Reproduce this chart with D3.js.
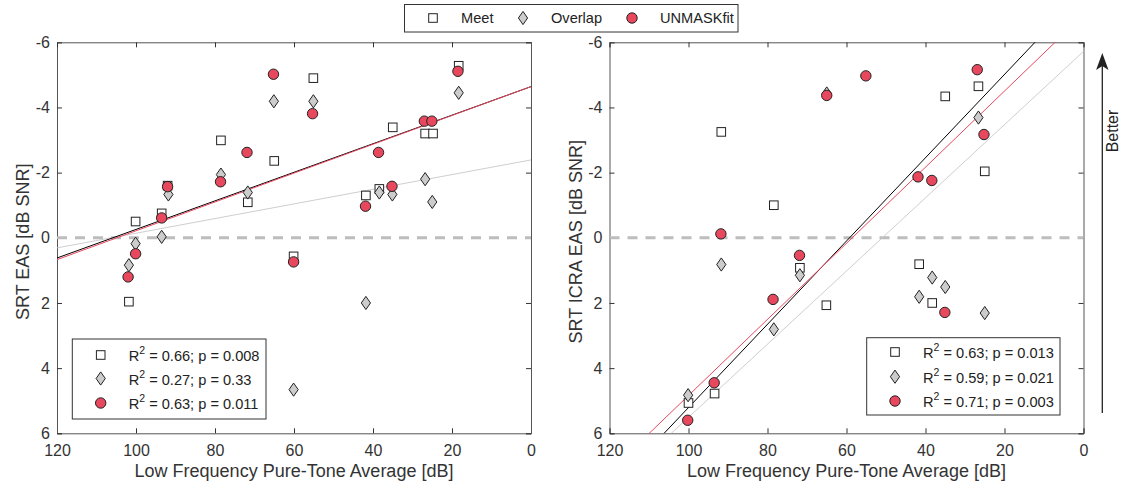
<!DOCTYPE html>
<html>
<head>
<meta charset="utf-8">
<script src="https://cdn.jsdelivr.net/npm/d3@7"></script>
<style>
  body { margin: 0; background: #fff; }
  svg { display: block; font-family: "Liberation Sans", Arial, sans-serif; }
</style>
</head>
<body>
<svg id="chart" width="1122" height="488"></svg>
<script>
// ---------- DATA ----------
const xTicks = [120, 100, 80, 60, 40, 20, 0];
const yTicks = [-6, -4, -2, 0, 2, 4, 6];
const seriesNames = ["Meet", "Overlap", "UNMASKfit"];
const xLabel = "Low Frequency Pure-Tone Average [dB]";
const yLabels = ["SRT EAS [dB SNR]", "SRT ICRA EAS [dB SNR]"];

// Left panel: [PTA dB, SRT dB SNR]
const leftMeet = [[65.0,-2.36],[78.5,-2.99],[71.7,-1.09],[92.0,-1.6],[93.5,-0.75],[100.1,-0.5],[101.8,1.96],[60.1,0.57],[55.1,-4.9],[35.0,-3.39],[26.8,-3.2],[24.8,-3.2],[18.3,-5.28],[41.8,-1.3],[38.4,-1.5]];
const leftOverlap = [[65.1,-4.19],[78.5,-1.94],[91.8,-1.33],[71.7,-1.39],[93.5,-0.03],[100.1,0.18],[101.8,0.84],[60.1,4.66],[41.8,2.0],[55.1,-4.19],[18.3,-4.45],[26.8,-1.8],[25.0,-1.1],[38.4,-1.39],[35.1,-1.33]];
const leftUnmask = [[65.2,-5.02],[71.9,-2.62],[78.6,-1.72],[92.0,-1.57],[93.5,-0.61],[100.1,0.49],[102.0,1.2],[60.1,0.74],[55.3,-3.81],[27.0,-3.58],[25.1,-3.58],[18.5,-5.11],[38.6,-2.62],[41.9,-0.97],[35.2,-1.58]];

// Right panel
const rightMeet = [[91.7,-3.25],[78.4,-1.0],[71.8,0.92],[65.1,2.07],[93.4,4.78],[100.0,5.07],[26.6,-4.65],[35.0,-4.34],[25.0,-2.04],[41.6,0.81],[38.3,2.0]];
const rightOverlap = [[65.0,-4.43],[91.7,0.82],[71.8,1.15],[78.4,2.81],[100.1,4.83],[26.6,-3.69],[38.3,1.22],[35.0,1.51],[41.6,1.81],[25.0,2.31]];
const rightUnmask = [[65.0,-4.37],[91.8,-0.12],[71.9,0.54],[78.6,1.89],[93.5,4.45],[100.2,5.6],[55.1,-4.97],[26.9,-5.16],[25.2,-3.17],[41.9,-1.87],[38.4,-1.76],[35.1,2.29]];

// Fitted lines: SRT = intercept + slope * PTA  (Meet, Overlap, UNMASKfit)
const leftIntercepts = [-4.64, -2.39, -4.64];
const leftSlopes = [0.04383, 0.02250, 0.04425];
const rightIntercepts = [-7.57, -5.72, -6.84];
const rightSlopes = [0.1278, 0.1123, 0.1168];

const leftStats = ["0.66; p = 0.008", "0.27; p = 0.33", "0.63; p = 0.011"];
const rightStats = ["0.63; p = 0.013", "0.59; p = 0.021", "0.71; p = 0.003"];

// ---------- STYLE ----------
const RED = "#e8485e";
const GRAY_FILL = "#cccccc";
const AXIS = "#333333";
const lineColors = ["#000000", "#c8c8c8", RED];
const FONT = 14.6;
const TICKFONT = 16;
const LABELFONT = 18;

const svg = d3.select("#chart");
const yTop = 42.3, yBot = 433.3;

function marker(g, type, cx, cy) {
  if (type === 0) {
    g.append("rect").attr("x", cx - 4.3).attr("y", cy - 4.3).attr("width", 8.6).attr("height", 8.6)
      .attr("fill", "#fff").attr("stroke", "#222").attr("stroke-width", 1);
  } else if (type === 1) {
    const w = 4.6, h = 6.6;
    g.append("path").attr("d", `M${cx},${cy - h}L${cx + w},${cy}L${cx},${cy + h}L${cx - w},${cy}Z`)
      .attr("fill", GRAY_FILL).attr("stroke", "#222").attr("stroke-width", 1);
  } else {
    g.append("circle").attr("cx", cx).attr("cy", cy).attr("r", 5.2)
      .attr("fill", RED).attr("stroke", "#222").attr("stroke-width", 1);
  }
}

function panel(idx, x0, x1, series, intercepts, slopes, stats, legendBox, legendX, legendRows, yLabel, yLabelX) {
  const x = d3.scaleLinear().domain([120, 0]).range([x0, x1]);
  const y = d3.scaleLinear().domain([-6, 6]).range([yTop, yBot]);
  const g = svg.append("g");

  const clipId = "clip" + idx;
  svg.append("clipPath").attr("id", clipId).append("rect")
    .attr("x", x0).attr("y", yTop).attr("width", x1 - x0).attr("height", yBot - yTop);

  // axes (inward ticks, box)
  const axB = d3.axisBottom(x).tickValues(xTicks).tickSize(-5).tickPadding(11).tickFormat(d => String(d));
  const axL = d3.axisLeft(y).tickValues(yTicks).tickSize(-5).tickPadding(7).tickFormat(d => String(d));
  const axT = d3.axisTop(x).tickValues(xTicks).tickSize(-5).tickFormat("");
  const axR = d3.axisRight(y).tickValues(yTicks).tickSize(-5).tickFormat("");
  const style = sel => {
    sel.selectAll("path, line").attr("stroke", AXIS).attr("stroke-width", 1);
    sel.selectAll("text").attr("fill", "#333").attr("font-size", TICKFONT).attr("font-family", "Liberation Sans, Arial, sans-serif");
  };
  g.append("g").attr("transform", `translate(0,${yBot})`).call(axB).call(style);
  g.append("g").attr("transform", `translate(${x0},0)`).call(axL).call(style);
  g.append("g").attr("transform", `translate(0,${yTop})`).call(axT).call(style);
  g.append("g").attr("transform", `translate(${x1},0)`).call(axR).call(style);
  g.selectAll(".domain").attr("stroke", "#555");

  // zero line
  g.append("line").attr("x1", x0).attr("x2", x1).attr("y1", y(0)).attr("y2", y(0))
    .attr("stroke", "#bdbdbd").attr("stroke-width", 3).attr("stroke-dasharray", "10,8");

  // fitted lines: gray first, then black, then red
  const lineG = g.append("g").attr("clip-path", `url(#${clipId})`);
  [1, 0, 2].forEach(k => {
    lineG.append("line")
      .attr("x1", x(130)).attr("y1", y(intercepts[k] + slopes[k] * 130))
      .attr("x2", x(-10)).attr("y2", y(intercepts[k] + slopes[k] * -10))
      .attr("stroke", lineColors[k]).attr("stroke-width", k === 1 ? 0.9 : 1);
  });

  // markers
  const mg = g.append("g");
  series.forEach((pts, k) => pts.forEach(p => marker(mg, k, x(p[0]), y(p[1]))));

  // inner legend
  g.append("rect").attr("x", legendBox[0]).attr("y", legendBox[1]).attr("width", legendBox[2]).attr("height", legendBox[3])
    .attr("fill", "#fff").attr("stroke", "#333").attr("stroke-width", 1);
  stats.forEach((s, k) => {
    const ry = legendRows[k];
    marker(g, k, legendX, ry);
    const t = g.append("text").attr("x", legendX + 28).attr("y", ry + 6)
      .attr("font-size", FONT).attr("fill", "#222");
    t.append("tspan").text("R");
    t.append("tspan").attr("dy", -7).attr("font-size", 10.5).text("2");
    t.append("tspan").attr("dy", 7).text(" = " + s);
  });

  // labels
  g.append("text").attr("x", (x0 + x1) / 2).attr("y", 477).attr("text-anchor", "middle")
    .attr("font-size", LABELFONT).attr("fill", "#333").text(xLabel);
  g.append("text").attr("transform", `translate(${yLabelX},${(yTop + yBot) / 2 + 4}) rotate(-90)`)
    .attr("text-anchor", "middle").attr("font-size", LABELFONT).attr("fill", "#333").text(yLabel);
}

panel(0, 57, 531, [leftMeet, leftOverlap, leftUnmask], leftIntercepts, leftSlopes, leftStats,
  [72.3, 339, 193.7, 80], 100.7, [355, 378.5, 403], yLabels[0], 28.5);
panel(1, 609.5, 1083.5, [rightMeet, rightOverlap, rightUnmask], rightIntercepts, rightSlopes, rightStats,
  [866.7, 337.7, 193.3, 77.3], 895, [352, 376.7, 401], yLabels[1], 582);

// top legend
const lg = svg.append("g");
lg.append("rect").attr("x", 404.5).attr("y", 4.5).attr("width", 333.5).attr("height", 27.5)
  .attr("fill", "#fff").attr("stroke", "#333").attr("stroke-width", 1);
const legX = [433, 523, 632];
seriesNames.forEach((n, k) => {
  marker(lg, k, legX[k], 18);
  lg.append("text").attr("x", legX[k] + 28).attr("y", 23).attr("font-size", FONT).attr("fill", "#222").text(n);
});

// "Better" arrow
svg.append("line").attr("x1", 1102.3).attr("x2", 1102.3).attr("y1", 413).attr("y2", 62)
  .attr("stroke", "#222").attr("stroke-width", 1.3);
svg.append("path").attr("d", "M1102.3,53 L1108.5,70 L1102.3,66 L1096.1,70 Z").attr("fill", "#222");
svg.append("text").attr("transform", "translate(1118,131) rotate(-90)").attr("text-anchor", "middle")
  .attr("font-size", 16).attr("fill", "#222").text("Better");
</script>
</body>
</html>
